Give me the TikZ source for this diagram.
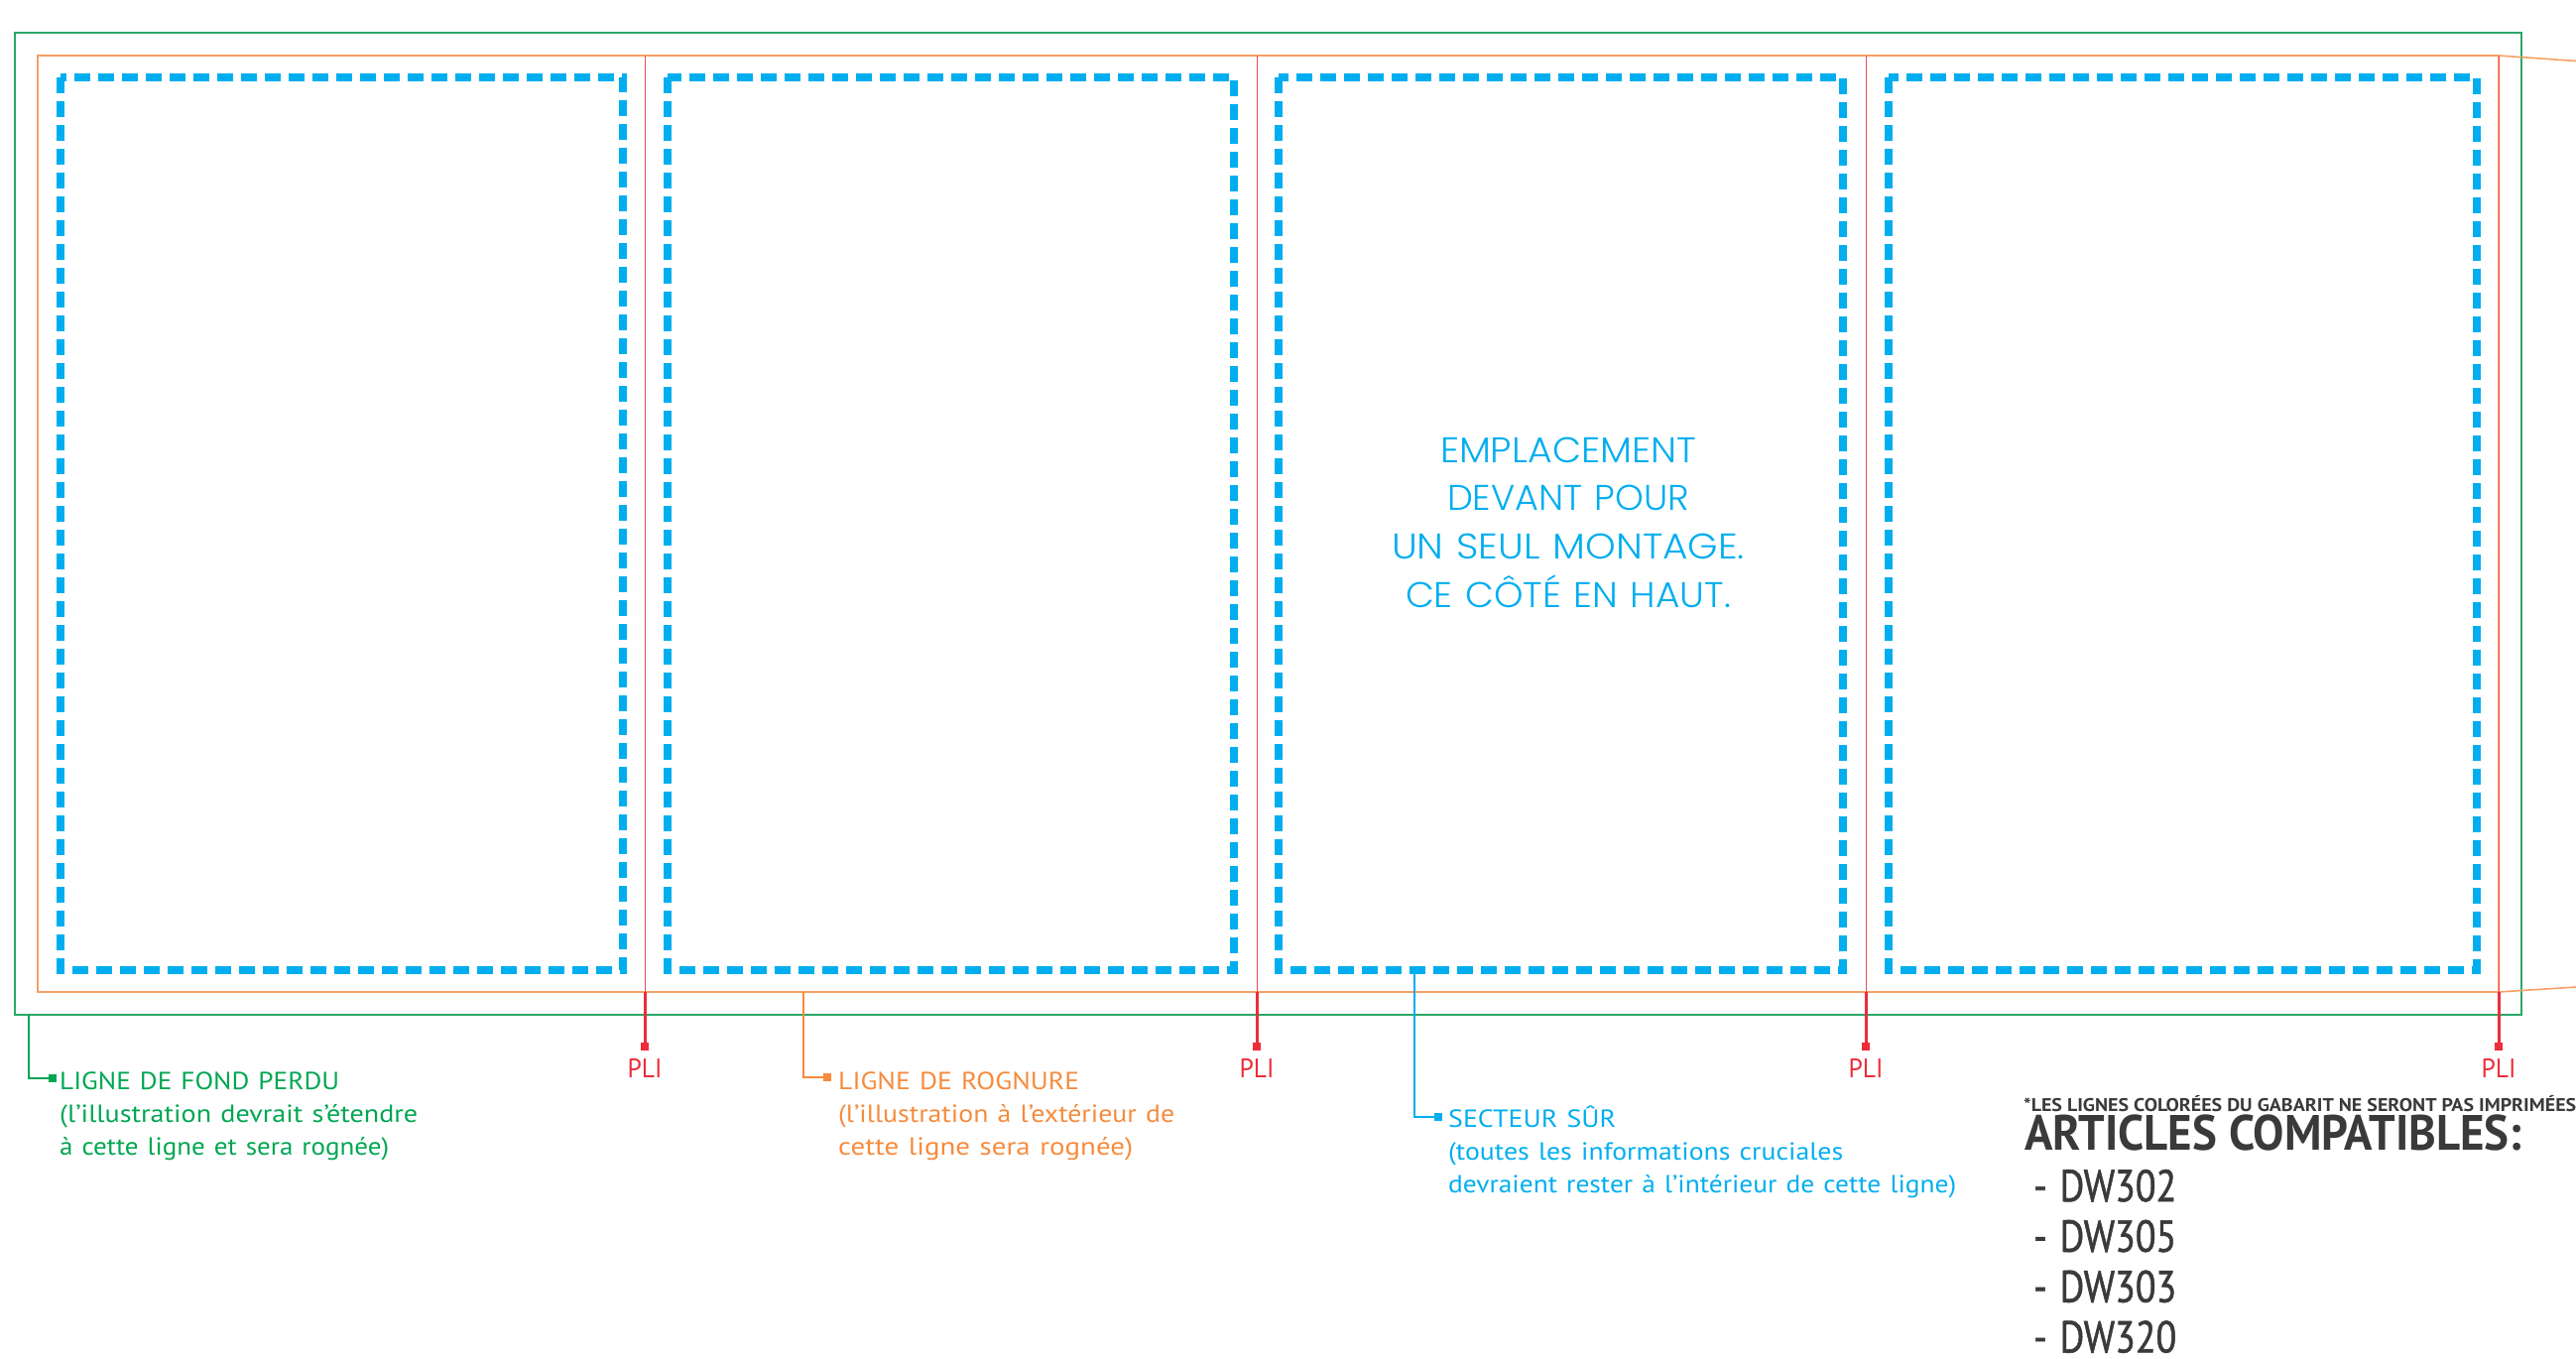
\documentclass[tikz,border=0pt]{standalone}
\usepackage{fontspec}
\usepackage{graphicx}
\setmainfont{PT Sans}
\newfontfamily\medfont{PT Sans}[FakeBold=1.3]
\IfFontExistsTF{Poppins Light}{\newfontfamily\futfont{Poppins Light}}{\newfontfamily\futfont{Poppins}}
\newcommand{\fitw}[2]{\resizebox{#1pt}{\height}{#2}}
\definecolor{gline}{HTML}{2BA668}
\definecolor{gtext}{HTML}{00A651}
\definecolor{oline}{HTML}{F7A063}
\definecolor{otext}{HTML}{F68B3D}
\definecolor{foldred}{HTML}{EC2D3A}
\definecolor{safe}{HTML}{00AEEF}
\definecolor{darktext}{HTML}{3A3A3A}
\begin{document}
\begin{tikzpicture}[x=1pt,y=-1pt,
  bleedline/.style={draw=gline,line width=1.6pt},
  trimline/.style={draw=oline,line width=1.6pt},
  safebox/.style={draw=safe,line width=8pt,dash pattern=on 16pt off 8pt},
  foldthin/.style={draw=foldred!85,line width=1pt},
  foldthick/.style={draw=foldred,line width=3pt},
  sqmark/.style={rectangle,inner sep=0pt,minimum size=8pt,fill=#1},
  leader/.style={draw=#1,line width=2pt},
  lbl/.style={inner sep=0pt,anchor=base west,text width=700pt,align=left,font=\fontsize{25}{33}\selectfont},
  plilbl/.style={inner sep=0pt,anchor=base,text=foldred,font=\fontsize{27}{30}\selectfont},
  centertxt/.style={inner sep=0pt,anchor=base,text width=500pt,align=center,text=safe,font=\futfont\fontsize{36}{48.7}\selectfont},
  darklbl/.style={inner sep=0pt,anchor=base west,text=darktext}
]
\useasboundingbox (0,0) rectangle (2597,1369);

% bleed (green) and trim (orange) outlines
\draw[bleedline] (15,33) rectangle (2542,1023);
\draw[trimline] (38,56) rectangle (2519,1000);
\coordinate (trimTR) at (2519,56);
\coordinate (trimBR) at (2519,1000);
\coordinate (offT) at (2597,61.5);
\coordinate (offB) at (2597,995);
\draw[trimline] (trimTR) -- (offT);
\draw[trimline] (trimBR) -- (offB);

% safe zones (cyan dashed)
\draw[safebox] (61,78) rectangle (628,978);
\draw[safebox] (673,78) rectangle (1244,978);
\draw[safebox] (1289,78) rectangle (1858,978);
\draw[safebox] (1904,78) rectangle (2497,978);

% folds
\foreach \fx/\nm in {650/a,1267/b,1881/c,2519/d}{
  \coordinate (ftop\nm) at (\fx,56);
  \coordinate (fbot\nm) at (\fx,1000);
  \node[sqmark=foldred] (fmk\nm) at (\fx,1055) {};
  \draw[foldthin] (ftop\nm) -- (fbot\nm);
  \draw[foldthick] (fbot\nm) -- (fmk\nm.center);
  \node[plilbl] (pli\nm) at (\fx,1086) {\fitw{35}{PLI}};
}

% central text
\node[centertxt] (front) at (1581,466) {\fitw{258}{EMPLACEMENT}\\ \fitw{244}{DEVANT POUR}\\ \fitw{356}{UN SEUL MONTAGE.}\\ \fitw{328}{CE CÔTÉ EN HAUT.}};

% bleed label
\coordinate (gstart) at (29,1023);
\node[sqmark=gtext] (gmk) at (53,1087) {};
\draw[leader=gtext] (gstart) |- (gmk.west);
\node[lbl,text=gtext] (glab) at (60,1098) {\fitw{282}{LIGNE DE FOND PERDU}\\ \fitw{361}{(l’illustration devrait s’étendre}\\ \fitw{332}{à cette ligne et sera rognée)}};

% trim label
\coordinate (ostart) at (810,1000);
\node[sqmark=otext] (omk) at (834,1086) {};
\draw[leader=otext] (ostart) |- (omk.west);
\node[lbl,text=otext] (olab) at (845,1098) {\fitw{243}{LIGNE DE ROGNURE}\\ \fitw{339}{(l’illustration à l’extérieur de}\\ \fitw{297}{cette ligne sera rognée)}};

% safe label
\coordinate (sstart) at (1426,978);
\node[sqmark=safe] (smk) at (1450,1126) {};
\draw[leader=safe] (sstart) |- (smk.west);
\node[lbl,text=safe] (slab) at (1460,1136) {\fitw{169}{SECTEUR SÛR}\\ \fitw{398}{(toutes les informations cruciales}\\ \fitw{512}{devraient rester à l’intérieur de cette ligne)}};

% right block
\node[darklbl,font=\bfseries\fontsize{18.5}{20}\selectfont] (note) at (2040,1120) {\fitw{557}{*LES LIGNES COLORÉES DU GABARIT NE SERONT PAS IMPRIMÉES}};
\node[darklbl,font=\bfseries\fontsize{50}{52}\selectfont] (title) at (2041,1159) {\fitw{501}{ARTICLES COMPATIBLES:}};
\node[darklbl,text width=400pt,align=left,font=\medfont\fontsize{45}{50.8}\selectfont] (list) at (2050,1211) {\fitw{144}{- DW302}\\ \fitw{144}{- DW305}\\ \fitw{144}{- DW303}\\ \fitw{144}{- DW320}};
\end{tikzpicture}
\end{document}
